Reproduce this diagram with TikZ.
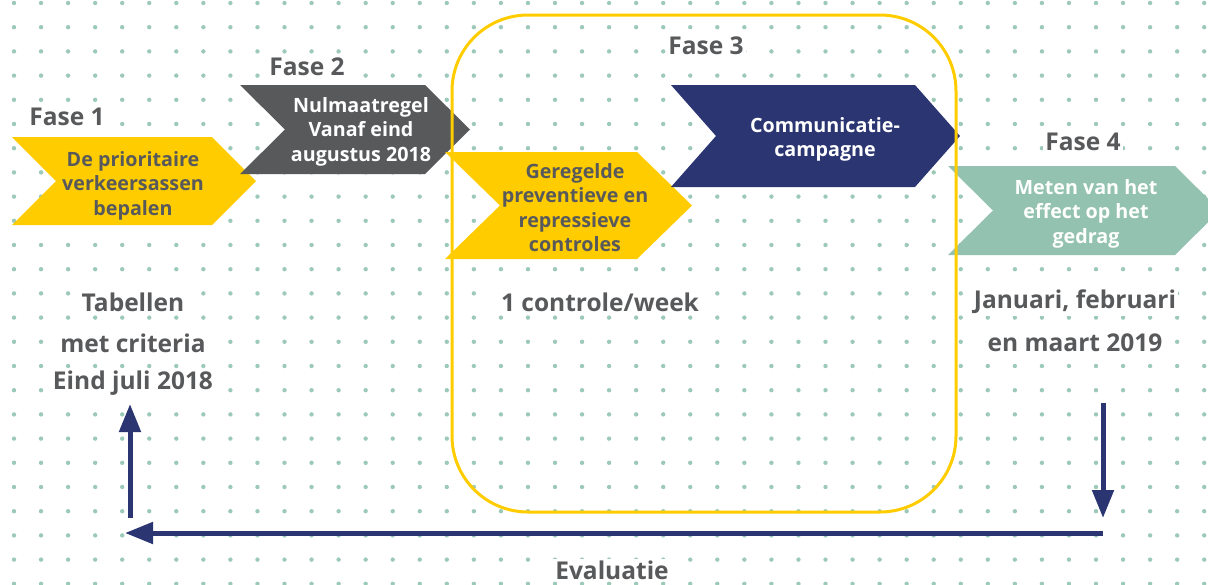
\documentclass[tikz,border=0pt]{standalone}
\usepackage{fontspec}
\setmainfont{Open Sans}
\usetikzlibrary{arrows.meta}
\definecolor{cyel}{HTML}{FFCC00}
\definecolor{cgray}{HTML}{58595B}
\definecolor{cnavy}{HTML}{2A3572}
\definecolor{cteal}{HTML}{93C2B0}
\definecolor{cdot}{HTML}{9CC9B8}
\definecolor{ctext}{HTML}{58595B}
% left x, top-right x, top y, bottom y, depth, colour
\newcommand\chevpath[6]{\fill[#6] (#1,#3) -- (#2,#3) -- ({#2+#5},{(#3+#4)/2}) -- (#2,#4) -- (#1,#4) -- ({#1+#5},{(#3+#4)/2}) -- cycle;}
\begin{document}
\begin{tikzpicture}[x=1pt,y=-1pt,
  chevtext/.style={align=center,font=\bfseries\fontsize{19.7}{24.5}\selectfont,inner sep=0pt},
  darktext/.style={chevtext,text=ctext},
  lighttext/.style={chevtext,text=white},
  lbl/.style={font=\bfseries\fontsize{24.5}{30}\selectfont,text=ctext,fill=white,inner sep=2pt},
  flow/.style={line width=5pt,draw=cnavy,-{Triangle[length=28pt,width=21pt]}},
  phase/.style={draw=cyel,line width=3pt,rounded corners=76pt}
]
\useasboundingbox (0,0) rectangle (1208,584);
\clip (0,0) rectangle (1208,584);
\foreach \i in {0,...,44}{\foreach \j in {0,...,24}{\fill[cdot] ({14+27.05*\i},{3+24.2*\j}) circle (2.2);}}

\chevpath{12}{212}{137}{225}{44}{cyel}
\chevpath{240}{425}{85}{174}{45}{cgray}
\chevpath{445}{637}{152}{259}{55}{cyel}
\chevpath{671}{915}{85}{187}{45}{cnavy}
\chevpath{948}{1175}{166}{255}{45}{cteal}

\node[darktext] (c1) at (133,185.5) {De prioritaire\\verkeersassen\\bepalen};
\node[lighttext] (c2) at (361,131.5) {Nulmaatregel\\Vanaf eind\\augustus 2018};
\node[darktext] (c3) at (575,207.5) {Geregelde\\preventieve en\\repressieve\\controles};
\node[lighttext] (c4) at (825,139.5) {Communicatie-\\campagne};
\node[lighttext] (c5) at (1086,213.5) {Meten van het\\effect op het\\gedrag};

\draw[phase] (452,15) rectangle (956,512);

\node[lbl] (f1) at (67,117) {Fase 1};
\node[lbl] (f2) at (307,67) {Fase 2};
\node[lbl] (f3) at (706,46) {Fase 3};
\node[lbl] (f4) at (1083,142) {Fase 4};

\node[lbl] (t1) at (133,302) {Tabellen};
\node[lbl] (t2) at (133,343) {met criteria};
\node[lbl] (t3) at (133,383) {Eind juli 2018};
\node[lbl] (w1) at (600,302) {1 controle/week};
\node[lbl] (j1) at (1075,302) {Januari, februari};
\node[lbl] (j2) at (1075,343) {en maart 2019};
\node[lbl] (ev) at (612,570) {Evaluatie};

\coordinate (upS) at (130,518);
\coordinate (upE) at (130,404);
\coordinate (hS) at (1103,533);
\coordinate (hE) at (125,533);
\coordinate (dS) at (1103,403);
\coordinate (dE) at (1103,518);
\draw[flow] (dS) -- (dE);
\draw[flow] (hS) -- (hE);
\draw[flow] (upS) -- (upE);
\end{tikzpicture}
\end{document}
